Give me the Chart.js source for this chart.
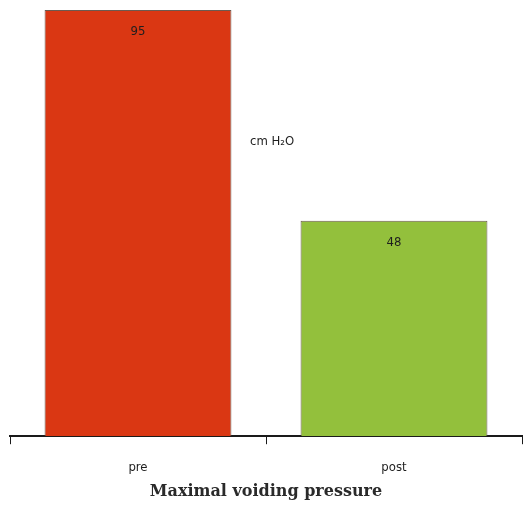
<!DOCTYPE html>
<html>
<head>
<meta charset="utf-8">
<script src="https://cdn.jsdelivr.net/npm/chart.js@4/dist/chart.umd.min.js"></script>
<style>
  html, body { margin: 0; padding: 0; background: #fff; }
  #wrap { width: 524px; height: 513px; }
</style>
</head>
<body>
<div id="wrap"><canvas id="chart" width="524" height="513"></canvas></div>
<script>
// Data
const categories = ['pre', 'post'];
const pressure = [95, 48];
const barColors = ['#da3713', '#93c03c'];
const unitLabel = 'cm H₂O';
const axisTitle = 'Maximal voiding pressure';

const labelFont = '"DejaVu Sans Condensed", "Liberation Sans Narrow", sans-serif';

// value labels inside bar tops + unit text
const labelPlugin = {
  id: 'barLabels',
  afterDatasetsDraw(chart) {
    const ctx = chart.ctx;
    const meta = chart.getDatasetMeta(0);
    ctx.save();
    ctx.fillStyle = '#1e1e1e';
    ctx.font = '13px ' + labelFont;
    ctx.textAlign = 'center';
    ctx.textBaseline = 'middle';
    meta.data.forEach((bar, i) => {
      ctx.fillText(String(pressure[i]), bar.x, bar.y + 22);
    });
    // unit label, sits between the bars
    const area = chart.chartArea;
    const yPos = chart.scales.y.getPixelForValue(pressure[0] * 0.69);
    ctx.textAlign = 'left';
    ctx.fillText(unitLabel, (area.left + area.right) / 2 - 16, yPos);
    ctx.restore();
  }
};

new Chart(document.getElementById('chart').getContext('2d'), {
  type: 'bar',
  data: {
    labels: categories,
    datasets: [{
      data: pressure,
      backgroundColor: barColors,
      borderColor: '#6b5a50',
      borderWidth: 1,
      borderSkipped: 'bottom',
      categoryPercentage: 0.73,
      barPercentage: 1,
    }],
  },
  options: {
    responsive: false,
    animation: false,
    devicePixelRatio: 1,
    layout: { padding: { left: 10, right: 2, top: 10, bottom: 12 } },
    plugins: { legend: { display: false }, tooltip: { enabled: false } },
    scales: {
      y: {
        display: false,
        min: 0,
        max: Math.max(...pressure),
      },
      x: {
        offset: true,
        border: { display: true, color: '#1a1a1a', width: 2 },
        grid: {
          offset: true,
          drawOnChartArea: false,
          drawTicks: true,
          tickLength: 8,
          color: '#1a1a1a',
          lineWidth: 1,
        },
        ticks: {
          color: '#1e1e1e',
          padding: 16,
          font: { family: labelFont, size: 13 },
        },
        title: {
          display: true,
          text: axisTitle,
          color: '#2a2a2a',
          padding: { top: -10, bottom: 0 },
          font: { family: '"DejaVu Serif", "Liberation Serif", serif', size: 16, weight: 'bold' },
        },
      },
    },
  },
  plugins: [labelPlugin],
});
</script>
</body>
</html>
